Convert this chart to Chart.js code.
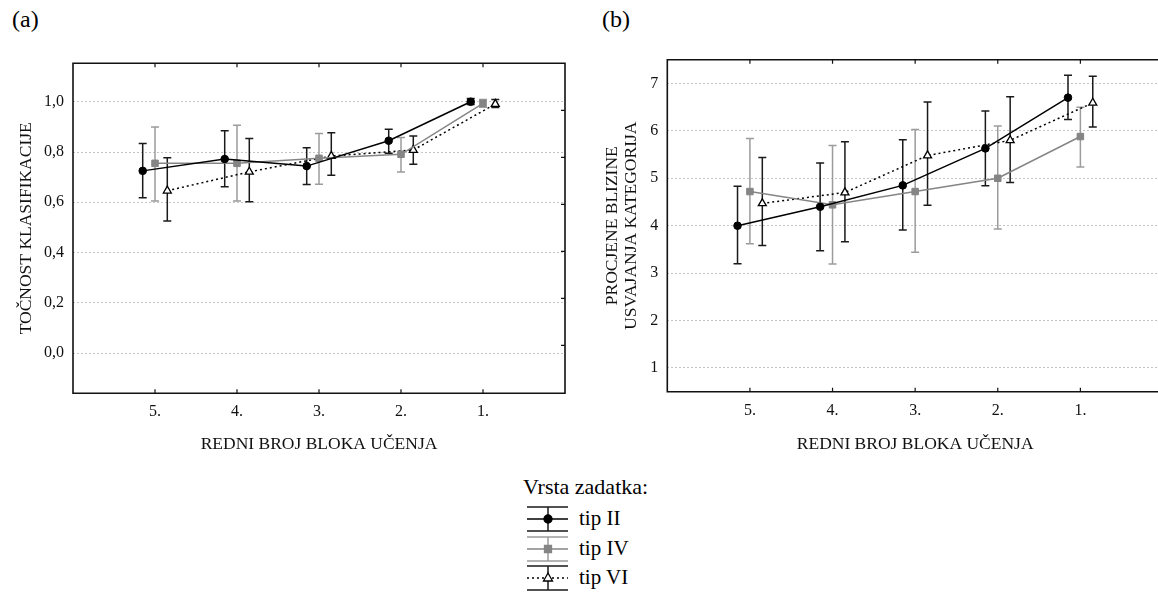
<!DOCTYPE html>
<html>
<head>
<meta charset="utf-8">
<script src="https://cdn.jsdelivr.net/npm/chart.js@4.4.0/dist/chart.umd.min.js"></script>
<style>
   html, body { margin:0; padding:0; background:#fff; overflow:hidden; width:1158px; height:594px; }
   body { position:relative; font-family:'Liberation Serif', 'Times New Roman', serif; color:#000; }
   .panel-label { position:absolute; top:7px; font-size:24px; line-height:1; }
   #chartA { position:absolute; left:0; top:0; }
   #chartB { position:absolute; left:580px; top:0; }
   #legend-title { position:absolute; left:523px; top:476px; font-size:22px; line-height:1; }
   .legend-item { position:absolute; left:579px; font-size:21px; line-height:1; }
   #legend-icons { position:absolute; left:524px; top:500px; }
</style>
</head>
<body>
<div class="panel-label" style="left:12px">(a)</div>
<div class="panel-label" style="left:602px">(b)</div>
<canvas id="chartA" width="580" height="470"></canvas>
<canvas id="chartB" width="600" height="470"></canvas>
<div id="legend-title">Vrsta zadatka:</div>
<canvas id="legend-icons" width="48" height="95"></canvas>
<div class="legend-item" style="top:508px">tip II</div>
<div class="legend-item" style="top:538px">tip IV</div>
<div class="legend-item" style="top:567px">tip VI</div>

<script>
// learning blocks, shown from 5. (left) to 1. (right)
const blocks = [5, 4, 3, 2, 1];
const seriesNames = ["tip II", "tip IV", "tip VI"];

// (a) classification accuracy: mean, lower and upper end of the error bar
const accIIMean = [0.725, 0.772, 0.744, 0.845, 1.000];
const accIILow  = [0.618, 0.662, 0.671, 0.795, 0.989];
const accIIHigh = [0.834, 0.885, 0.817, 0.891, 1.013];
const accIVMean = [0.755, 0.755, 0.775, 0.791, 0.994];
const accIVLow  = [0.605, 0.605, 0.672, 0.721, 0.978];
const accIVHigh = [0.900, 0.907, 0.874, 0.858, 1.009];
const accVIMean = [0.646, 0.721, 0.784, 0.808, 0.991];
const accVILow  = [0.526, 0.602, 0.708, 0.751, 0.977];
const accVIHigh = [0.777, 0.854, 0.877, 0.864, 1.009];

// (b) estimated closeness of category learning
const estIIMean = [4.00, 4.40, 4.85, 5.63, 6.70];
const estIILow  = [3.20, 3.47, 3.91, 4.84, 6.24];
const estIIHigh = [4.83, 5.32, 5.81, 6.42, 7.17];
const estIVMean = [4.72, 4.44, 4.72, 5.00, 5.88];
const estIVLow  = [3.62, 3.19, 3.44, 3.93, 5.24];
const estIVHigh = [5.84, 5.69, 6.03, 6.10, 6.50];
const estVIMean = [4.47, 4.70, 5.48, 5.80, 6.59];
const estVILow  = [3.58, 3.66, 4.43, 4.91, 6.08];
const estVIHigh = [5.44, 5.77, 6.61, 6.72, 7.15];

// tick labels
const yTicksA = [0, 0.2, 0.4, 0.6, 0.8, 1.0];
const yTickLabelsA = ["0,0", "0,2", "0,4", "0,6", "0,8", "1,0"];
const yTicksB = [1, 2, 3, 4, 5, 6, 7];
const xTickLabels = ["5.", "4.", "3.", "2.", "1."];

Chart.defaults.font.family = "'Liberation Serif', 'Times New Roman', serif";
Chart.defaults.color = "#111";

const styles = [
   { borderColor:"#000", pointBackgroundColor:"#000", pointBorderColor:"#000", pointStyle:"circle", pointRadius:3.8, errColor:"#1a1a1a", offset:0.15 },
   { borderColor:"#858585", pointBackgroundColor:"#858585", pointBorderColor:"#858585", pointStyle:"rect", pointRadius:4.6, errColor:"#9c9c9c", offset:0 },
   { borderColor:"#000", borderDash:[2,3], pointBackgroundColor:"#fff", pointBorderColor:"#000", pointStyle:"triangle", pointRadius:4.6, pointBorderWidth:1.3, errColor:"#1a1a1a", offset:-0.15 }
];

function makeSeries(idx, mean, low, high) {
   const st = styles[idx];
   return Object.assign({
      label: seriesNames[idx],
      data: blocks.map((b, i) => ({ x: b + st.offset, y: mean[i], lo: low[i], hi: high[i] })),
      borderWidth: 1.5,
      pointBorderWidth: 1,
      fill: false,
      tension: 0
   }, st);
}

// error bars drawn through the chart scales
const errorBars = {
   id: "errorBars",
   beforeDatasetsDraw(chart) {
      const ctx = chart.ctx;
      const x = chart.scales.x, y = chart.scales.y;
      chart.data.datasets.forEach(ds => {
         ctx.save();
         ctx.strokeStyle = ds.errColor;
         ctx.lineWidth = 1.5;
         ctx.beginPath();
         ds.data.forEach(p => {
            const px = x.getPixelForValue(p.x);
            const top = y.getPixelForValue(p.hi);
            const bot = y.getPixelForValue(p.lo);
            ctx.moveTo(px, top); ctx.lineTo(px, bot);
            ctx.moveTo(px - 4, top); ctx.lineTo(px + 4, top);
            ctx.moveTo(px - 4, bot); ctx.lineTo(px + 4, bot);
         });
         ctx.stroke();
         ctx.restore();
      });
   }
};

// box round the plot with small inward ticks
const frame = {
   id: "frame",
   afterDraw(chart) {
      const ctx = chart.ctx, a = chart.chartArea, sc = chart.scales;
      ctx.save();
      ctx.strokeStyle = "#111";
      ctx.lineWidth = 1.6;
      ctx.beginPath();
      ctx.rect(a.left, a.top, a.right - a.left, a.bottom - a.top);
      ctx.stroke();
      ctx.lineWidth = 1.2;
      ctx.beginPath();
      sc.x.ticks.forEach(t => {
         const px = sc.x.getPixelForValue(t.value);
         ctx.moveTo(px, a.top); ctx.lineTo(px, a.top + 4);
         ctx.moveTo(px, a.bottom); ctx.lineTo(px, a.bottom - 4);
      });
      if (sc.y2) {
         sc.y2.ticks.forEach(t => {
            const py = sc.y2.getPixelForValue(t.value);
            ctx.moveTo(a.right, py); ctx.lineTo(a.right - 4, py);
         });
      }
      ctx.stroke();
      ctx.restore();
   }
};

function buildChart(id, opts) {
   const scales = {
      x: {
         type: "linear",
         reverse: true,
         min: 0,
         max: 6,
         afterBuildTicks: s => { s.ticks = blocks.map(v => ({ value: v })); },
         afterFit: s => { s.height = opts.xHeight; },
         ticks: { padding: 9, font: { size: 16 }, callback: (v) => xTickLabels[blocks.indexOf(v)] },
         grid: { display: false, drawTicks: false },
         border: { display: false },
         title: { display: true, text: "REDNI BROJ BLOKA UČENJA", font: { size: 17.5 }, color: "#111", padding: { top: 0, bottom: 15.5 } }
      },
      y: {
         type: "linear",
         min: opts.yMin,
         max: opts.yMax,
         afterBuildTicks: s => { s.ticks = opts.yTicks.map(v => ({ value: v })); },
         afterFit: s => { s.width = opts.yWidth; },
         ticks: { padding: 9, font: { size: 16 }, callback: opts.yLabel },
         grid: { color: "#c4c4c4", lineWidth: 1, drawTicks: false },
         border: { display: false, dash: [2, 2] },
         title: { display: true, text: opts.yTitle, font: { size: 17.5, lineHeight: 1.1 }, color: "#111", padding: { top: opts.yTitlePad, bottom: 0 } }
      }
   };
   if (opts.right) {
      scales.y2 = {
         type: "linear",
         position: "right",
         min: 0.98,
         max: 8,
         afterBuildTicks: s => { s.ticks = [2, 3, 4, 5, 6, 7].map(v => ({ value: v })); },
         afterFit: s => { s.width = opts.right; },
         ticks: { display: false },
         grid: { display: false, drawTicks: false },
         border: { display: false }
      };
   }
   return new Chart(document.getElementById(id), {
      type: "line",
      data: { datasets: opts.datasets },
      options: {
         responsive: false,
         animation: false,
         events: [],
         layout: { padding: { top: opts.top, left: 0, right: opts.padRight, bottom: 0 } },
         plugins: { legend: { display: false }, tooltip: { enabled: false } },
         scales: scales
      },
      plugins: [errorBars, frame]
   });
}

buildChart("chartA", {
   datasets: [
      makeSeries(0, accIIMean, accIILow, accIIHigh),
      makeSeries(1, accIVMean, accIVLow, accIVHigh),
      makeSeries(2, accVIMean, accVILow, accVIHigh)
   ],
   yMin: -0.16, yMax: 1.153,
   yTicks: yTicksA,
   yLabel: (v) => yTickLabelsA[yTicksA.indexOf(v)],
   yTitle: "TOČNOST KLASIFIKACIJE",
   yTitlePad: 17,
   yWidth: 73,
   xHeight: 76.7,
   top: 63.3,
   right: 15,
   padRight: 0
});

buildChart("chartB", {
   datasets: [
      makeSeries(0, estIIMean, estIILow, estIIHigh),
      makeSeries(1, estIVMean, estIVLow, estIVHigh),
      makeSeries(2, estVIMean, estVILow, estVIHigh)
   ],
   yMin: 0.5, yMax: 7.5,
   yTicks: yTicksB,
   yLabel: (v) => String(v),
   yTitle: ["PROCJENE BLIZINE", "USVAJANJA KATEGORIJA"],
   yTitlePad: 23,
   yWidth: 87.3,
   xHeight: 78.3,
   top: 59.7,
   right: 0,
   padRight: 17
});

// legend glyphs: error bar caps, series line and marker
function drawLegendIcons() {
   const ctx = document.getElementById("legend-icons").getContext("2d");
   const rows = [19, 49, 78];
   rows.forEach((cy, i) => {
      const st = styles[i];
      const x0 = 3, x1 = 44, cx = 24;
      ctx.save();
      ctx.lineWidth = 1.5;
      ctx.strokeStyle = st.errColor;
      ctx.beginPath();
      ctx.moveTo(x0, cy - 12); ctx.lineTo(x1, cy - 12);
      ctx.moveTo(x0, cy + 12); ctx.lineTo(x1, cy + 12);
      ctx.moveTo(cx, cy - 12); ctx.lineTo(cx, cy + 12);
      ctx.stroke();
      ctx.strokeStyle = st.borderColor;
      ctx.setLineDash(st.borderDash || []);
      ctx.beginPath();
      ctx.moveTo(x0, cy); ctx.lineTo(x1, cy);
      ctx.stroke();
      ctx.setLineDash([]);
      ctx.fillStyle = st.pointBackgroundColor;
      ctx.strokeStyle = st.pointBorderColor;
      ctx.lineWidth = 1.3;
      ctx.beginPath();
      if (st.pointStyle === "circle") {
         ctx.arc(cx, cy, 4, 0, Math.PI * 2);
      } else if (st.pointStyle === "rect") {
         ctx.rect(cx - 3.5, cy - 3.5, 7, 7);
      } else {
         ctx.moveTo(cx, cy - 5); ctx.lineTo(cx + 4.5, cy + 3); ctx.lineTo(cx - 4.5, cy + 3); ctx.closePath();
      }
      ctx.fill();
      ctx.stroke();
      ctx.restore();
   });
}
drawLegendIcons();
</script>
</body>
</html>
